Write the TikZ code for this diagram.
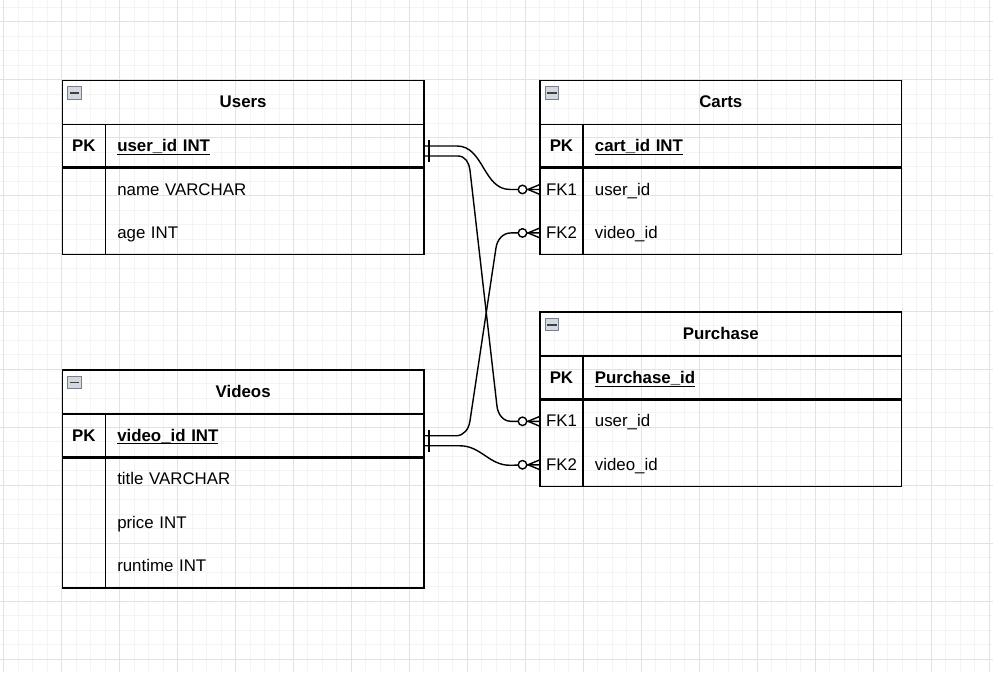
\documentclass[tikz,border=0pt]{standalone}
\usepackage{fontspec}
\setmainfont{Liberation Sans}
\usepackage{tikz}
\usetikzlibrary{positioning}

\definecolor{gridMinor}{RGB}{244,244,244}
\definecolor{gridMajor}{RGB}{226,226,226}
\definecolor{iconFill}{RGB}{212,216,224}
\definecolor{iconLine}{RGB}{120,126,138}

\newcommand{\keyfield}[1]{\textbf{\underline{\smash{#1}}}}

\begin{document}
\begin{tikzpicture}[x=0.02cm, y=-0.02cm,
        basetext/.style={font=\fontsize{9.6}{11.5}\selectfont, text height=1.55ex, text depth=0.35ex, inner sep=0pt, outer sep=0pt},
        tablehead/.style={basetext, font=\fontsize{9.6}{11.5}\selectfont\bfseries, minimum width=7.24cm, minimum height=0.88cm, anchor=north west},
        keycell/.style={basetext, minimum width=0.86cm, minimum height=0.87cm},
        fieldcell/.style={basetext, text width=5.9cm, inner xsep=0.24cm, align=left, minimum height=0.87cm},
        tableline/.style={line width=0.8pt, draw=black},
        keyline/.style={line width=1.6pt, draw=black},
        iconbox/.style={draw=iconLine, fill=iconFill, line width=0.5pt, minimum width=0.27cm, minimum height=0.25cm, inner sep=0pt},
        iconbar/.style={line width=1pt, draw=black!75},
        relline/.style={line width=0.8pt, draw=black},
        ringend/.style={circle, draw=black, fill=white, line width=0.8pt, minimum size=0.17cm, inner sep=0pt},
        gridminor/.style={draw=gridMinor, line width=0.5pt},
        gridmajor/.style={draw=gridMajor, line width=0.5pt}]
            \draw[use as bounding box, transparent] (0,0) rectangle (993,672);

            % Background grid.
            \foreach \gx in {0,...,68} \draw[gridminor] ({3.3+14.5*\gx},0) -- ++(0,672);
            \foreach \gy in {0,...,45} \draw[gridminor] (0,{6.8+14.5*\gy}) -- ++(993,0);
            \foreach \gx in {0,...,17} \draw[gridmajor] ({3.3+58*\gx},0) -- ++(0,672);
            \foreach \gy in {0,...,11} \draw[gridmajor] (0,{21.3+58*\gy}) -- ++(993,0);

            % Define the macro.
            % 1st argument: Name of the table, prefix of its row nodes.
            % 2nd argument: X of the left edge (px).
            % 3rd argument: Y of the top edge (px).
            % 4th argument: Number of rows.
            % 5th argument: Title printed in the header.
            % 6th argument: Rows as key/field/name.

            \newcommand{\entityTable}[6]{
                \def\tx{#2} % Left edge of the table.
                \def\ty{#3} % Top edge of the table.

                % Header with title and collapse icon.
                \node[tablehead] (#1) at (\tx,\ty) {#5};
                \node[iconbox] (#1-icon) at (\tx+12,\ty+12.5) {};
                \draw[iconbar] ([xshift=0.05cm]#1-icon.west) -- ([xshift=-0.05cm]#1-icon.east);

                % Rows: key cell, then field cell right of it.
                \foreach \k/\f/\n [count=\i] in {#6} {
                    \node[keycell] (#1-\n-key) at (\tx+21.5,\ty+22.25+43.5*\i) {\k};
                    \node[fieldcell, right=0pt of #1-\n-key] (#1-\n) {\f};
                }

                % Frame and separators.
                \draw[tableline] (\tx,\ty) rectangle (\tx+362,\ty+44+43.5*#4);
                \draw[tableline] (#1.south west) -- (#1.south east);
                \draw[keyline] (\tx,\ty+87.5) -- ++(362,0);
                \draw[tableline] (\tx+43,\ty+44) -- (\tx+43,\ty+44+43.5*#4);
            }

            % Crow's foot with ring (zero or many) ending at #1.
            \newcommand{\manyEnd}[1]{
                \draw[relline] ([yshift=0.1cm]#1) -- ([xshift=-0.24cm]#1) -- ([yshift=-0.1cm]#1);
                \node[ringend] at ([xshift=-0.35cm]#1) {};
            }
            % Bar (one and only one) starting at #1.
            \newcommand{\oneEnd}[1]{
                \draw[relline] ([xshift=0.1cm,yshift=0.12cm]#1) -- ([xshift=0.1cm,yshift=-0.12cm]#1);
            }

            % TABLES
            \entityTable{users}{62}{80}{3}{Users}{\textbf{PK}/\keyfield{user\_id INT}/pk, /name VARCHAR/r1, /age INT/r2}
            \entityTable{carts}{540}{80}{3}{Carts}{\textbf{PK}/\keyfield{cart\_id INT}/pk, FK1/user\_id/fk1, FK2/video\_id/fk2}
            \entityTable{videos}{62}{370}{4}{Videos}{\textbf{PK}/\keyfield{video\_id INT}/pk, /title VARCHAR/r1, /price INT/r2, /runtime INT/r3}
            \entityTable{purchase}{540}{312}{3}{Purchase}{\textbf{PK}/\keyfield{Purchase\_id}/pk, FK1/user\_id/fk1, FK2/video\_id/fk2}

            % RELATIONS
            \coordinate (users-out2) at ([yshift=-0.2cm]users-pk.east);
            \coordinate (videos-out2) at ([yshift=-0.2cm]videos-pk.east);

            \draw[relline] (users-pk.east) -- ++(33,0) to[out=0,in=180] ++(53,43.5) -- (carts-fk1-key.west);        % user -> cart
            \draw[relline] (users-out2) -- ++(34,0) to[out=0,in=96] ++(12,14) -- ++(27,236)
                to[out=-84,in=180] ++(14,15.5) -- (purchase-fk1-key.west);                                          % user -> purchase
            \draw[relline] (videos-pk.east) -- ++(32,0) to[out=0,in=-98] ++(14,-14.75) -- ++(26,-173)
                to[out=82,in=180] ++(15,-15.25) -- (carts-fk2-key.west);                                            % video -> cart
            \draw[relline] (videos-out2) -- ++(36,0) to[out=0,in=180] ++(50,19.5) -- (purchase-fk2-key.west);     % video -> purchase

            \oneEnd{users-pk.east}
            \oneEnd{users-out2}
            \oneEnd{videos-pk.east}
            \oneEnd{videos-out2}

            \manyEnd{carts-fk1-key.west}
            \manyEnd{carts-fk2-key.west}
            \manyEnd{purchase-fk1-key.west}
            \manyEnd{purchase-fk2-key.west}

        \end{tikzpicture}
\end{document}
